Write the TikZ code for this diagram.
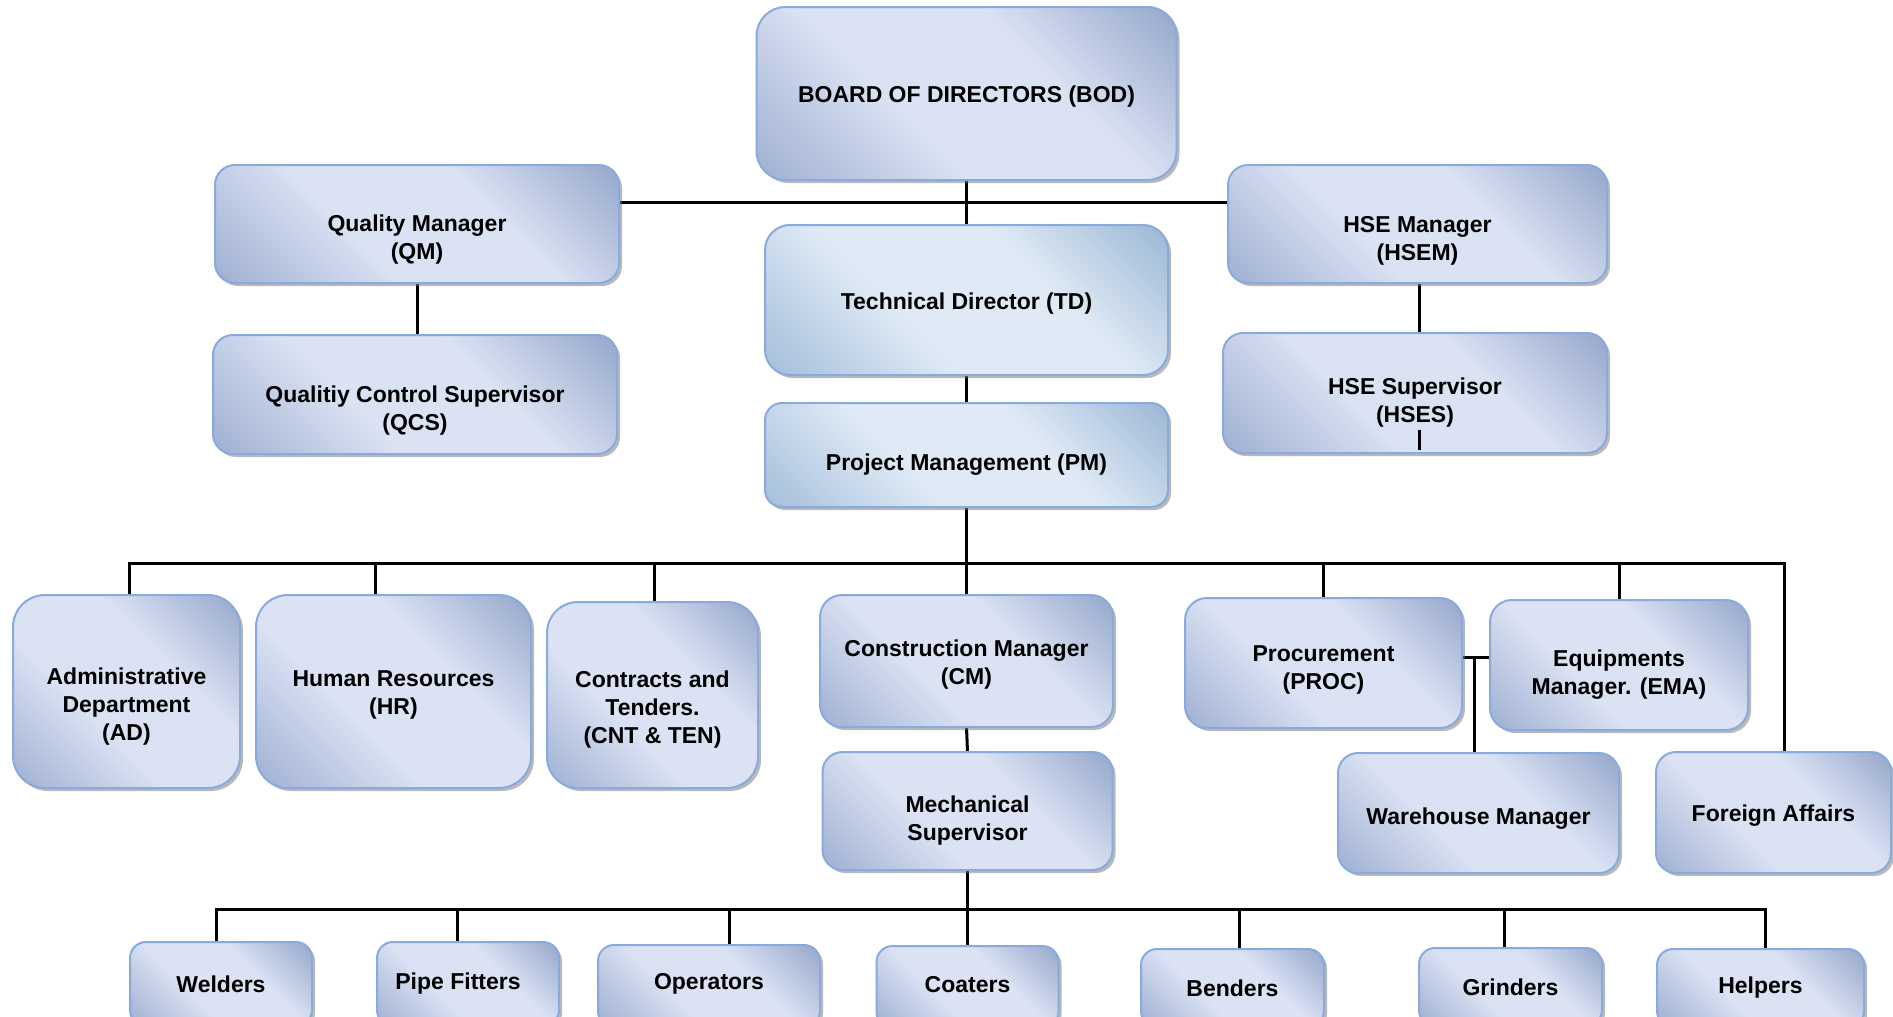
\documentclass[tikz,border=0pt]{standalone}
\usepackage{fontspec}
\setmainfont{Liberation Sans}
\usetikzlibrary{shadows,backgrounds}
\definecolor{blt}{HTML}{DAE2F3}
\definecolor{bdk}{HTML}{9DAED1}
\definecolor{bdk2}{HTML}{93A5CA}
\definecolor{tlt}{HTML}{DFEAF6}
\definecolor{tdk}{HTML}{A3BDD9}
\definecolor{tdk2}{HTML}{99B5D3}
\definecolor{bord}{HTML}{88AADD}
\pgfdeclarehorizontalshading{boxshade}{100bp}{color(0bp)=(bdk); color(14bp)=(bdk); color(40bp)=(blt); color(62bp)=(blt); color(86bp)=(bdk2); color(100bp)=(bdk2)}
\pgfdeclarehorizontalshading{tdshade}{100bp}{color(0bp)=(tdk); color(14bp)=(tdk); color(40bp)=(tlt); color(62bp)=(tlt); color(86bp)=(tdk2); color(100bp)=(tdk2)}
\tikzset{
  orgbox/.style n args={4}{draw=bord, line width=2pt, outer sep=0pt, inner sep=0pt,
    minimum width=#1pt, minimum height=#2pt, rounded corners=#3pt,
    shade, shading=#4, shading angle=45,
    drop shadow={shadow xshift=3pt, shadow yshift=-3pt, fill=black!55, opacity=.5}},
  lbl/.style={font=\bfseries\fontsize{23}{28}\selectfont, align=center, text=black, inner sep=0pt, yshift=-3.5pt},
  blbl/.style={font=\bfseries\fontsize{23}{28}\selectfont, align=center, text=black, inner sep=0pt},
  conn/.style={line width=3pt, black},
}
\begin{document}
\begin{tikzpicture}[x=1pt, y=-1pt]
\useasboundingbox (0,0) rectangle (1893,1017);
\clip (0,0) rectangle (1893,1017);
% top level
\node[orgbox={420}{173}{29}{boxshade},
  label={[lbl]center:BOARD OF DIRECTORS (BOD)}] (bod) at (966.5,93.5) {};
\node[orgbox={404}{118}{20}{boxshade},
  label={[lbl, yshift=-12pt]center:{Quality Manager\\(QM)}}] (qm) at (417,224) {};
\node[orgbox={404}{119}{20}{boxshade},
  label={[lbl, yshift=-13pt]center:{Qualitiy Control Supervisor\\(QCS)}}] (qcs) at (415,394.5) {};
\node[orgbox={403}{150}{25}{tdshade},
  label={[lbl]center:Technical Director (TD)}] (td) at (966.5,300) {};
\node[orgbox={403}{104}{17}{tdshade},
  label={[lbl, yshift=-6pt]center:Project Management (PM)}] (pm) at (966.5,455) {};
\node[orgbox={379}{118}{20}{boxshade},
  label={[lbl, yshift=-13pt]center:{HSE Manager\\(HSEM)}}] (hsem) at (1417.5,224) {};
\node[orgbox={384}{120}{20}{boxshade},
  label={[lbl, yshift=-6pt]center:{HSE Supervisor\\(HSES)}}] (hses) at (1415,393) {};
% middle row
\node[orgbox={227}{193}{32}{boxshade},
  label={[lbl, yshift=-12pt]center:{Administrative\\Department\\(AD)}}] (ad) at (126.5,691.5) {};
\node[orgbox={275}{193}{32}{boxshade},
  label={[lbl]center:{Human Resources\\(HR)}}] (hr) at (393.5,691.5) {};
\node[orgbox={211}{186}{31}{boxshade},
  label={[lbl, yshift=-11pt]center:{Contracts and\\Tenders.\\(CNT \& TEN)}}] (cnt) at (652.5,695) {};
\node[orgbox={293}{132}{22}{boxshade},
  label={[lbl]center:{Construction Manager\\(CM)}}] (cm) at (966.5,661) {};
\node[orgbox={290}{118}{20}{boxshade},
  label={[lbl, yshift=-6pt]center:{Mechanical\\Supervisor}}] (ms) at (967.5,811) {};
\node[orgbox={277}{130}{22}{boxshade},
  label={[lbl, yshift=-3pt]center:{Procurement\\(PROC)}}] (proc) at (1323.5,663) {};
\node[orgbox={258}{130}{22}{boxshade},
  label={[lbl, yshift=-6pt]center:{Equipments\\Manager. (EMA)}}] (ema) at (1619,665) {};
\node[orgbox={281}{120}{20}{boxshade},
  label={[lbl, yshift=-2pt]center:Warehouse Manager}] (wm) at (1478.5,813) {};
\node[orgbox={235}{121}{20}{boxshade},
  label={[lbl]center:Foreign Affairs}] (fa) at (1773.5,812.5) {};
% bottom row
\node[orgbox={182}{84}{16}{boxshade},
  label={[blbl]center:Welders}] (weld) at (221,984) {};
\node[orgbox={182}{84}{16}{boxshade},
  label={[blbl, xshift=-10pt]center:Pipe Fitters}] (pipe) at (468,984) {};
\node[orgbox={222}{82}{16}{boxshade},
  label={[blbl, yshift=2pt]center:Operators}] (oper) at (709,986) {};
\node[orgbox={182}{82}{16}{boxshade},
  label={[blbl, yshift=2pt]center:Coaters}] (coat) at (967.5,987) {};
\node[orgbox={183}{78}{16}{boxshade},
  label={[blbl]center:Benders}] (bend) at (1232.5,988) {};
\node[orgbox={183}{78}{16}{boxshade},
  label={[blbl]center:Grinders}] (grind) at (1510.5,987) {};
\node[orgbox={207}{78}{16}{boxshade},
  label={[blbl]center:Helpers}] (help) at (1760.5,988) {};
% stub inside HSES
\draw[conn] ([xshift=4pt, yshift=23pt]hses.south) -- ([xshift=4pt, yshift=3pt]hses.south);
% connectors
\begin{pgfonlayer}{background}
\coordinate (tl) at (966.5,202);
\coordinate (b1) at (966.5,563);
\coordinate (b2) at (966.5,909);
\coordinate (pe) at (1474.5,657);
\draw[conn] (bod.south) -- (td.north);
\draw[conn] (qm.east |- tl) -- (hsem.west |- tl);
\draw[conn] (qm.south) -- (qm.south |- qcs.north);
\draw[conn] ([xshift=1.5pt]hsem.south) -- ([xshift=1.5pt]hsem.south |- hses.north);
\draw[conn] (td.south) -- (pm.north);
\draw[conn] (pm.south) -- (cm.north);
\coordinate (adT) at ([xshift=2.5pt]ad.north);
\coordinate (hrT) at ([xshift=-18pt]hr.north);
\coordinate (cntT) at ([xshift=1.5pt]cnt.north);
\coordinate (faT) at ([xshift=11pt]fa.north);
\draw[conn] (adT) |- (faT |- b1) -- (faT);
\draw[conn] (hrT) -- (hrT |- b1);
\draw[conn] (cntT) -- (cntT |- b1);
\draw[conn] (proc.north) -- (proc.north |- b1);
\draw[conn] (ema.north) -- (ema.north |- b1);
\draw[conn] (proc.east |- pe) -- (ema.west |- pe);
\draw[conn] (pe) -- (pe |- wm.north);
\draw[conn] (cm.south) -- (ms.north);
\draw[conn] (ms.south) -- (coat.north);
\coordinate (weldT) at ([xshift=-5pt]weld.north);
\coordinate (pipeT) at ([xshift=-11pt]pipe.north);
\coordinate (operT) at ([xshift=20pt]oper.north);
\coordinate (bendT) at ([xshift=6.5pt]bend.north);
\coordinate (grindT) at ([xshift=-6.5pt]grind.north);
\coordinate (helpT) at ([xshift=4.5pt]help.north);
\draw[conn] (weldT) |- (helpT |- b2) -- (helpT);
\draw[conn] (pipeT) -- (pipeT |- b2);
\draw[conn] (operT) -- (operT |- b2);
\draw[conn] (bendT) -- (bendT |- b2);
\draw[conn] (grindT) -- (grindT |- b2);
\end{pgfonlayer}
\end{tikzpicture}
\end{document}
